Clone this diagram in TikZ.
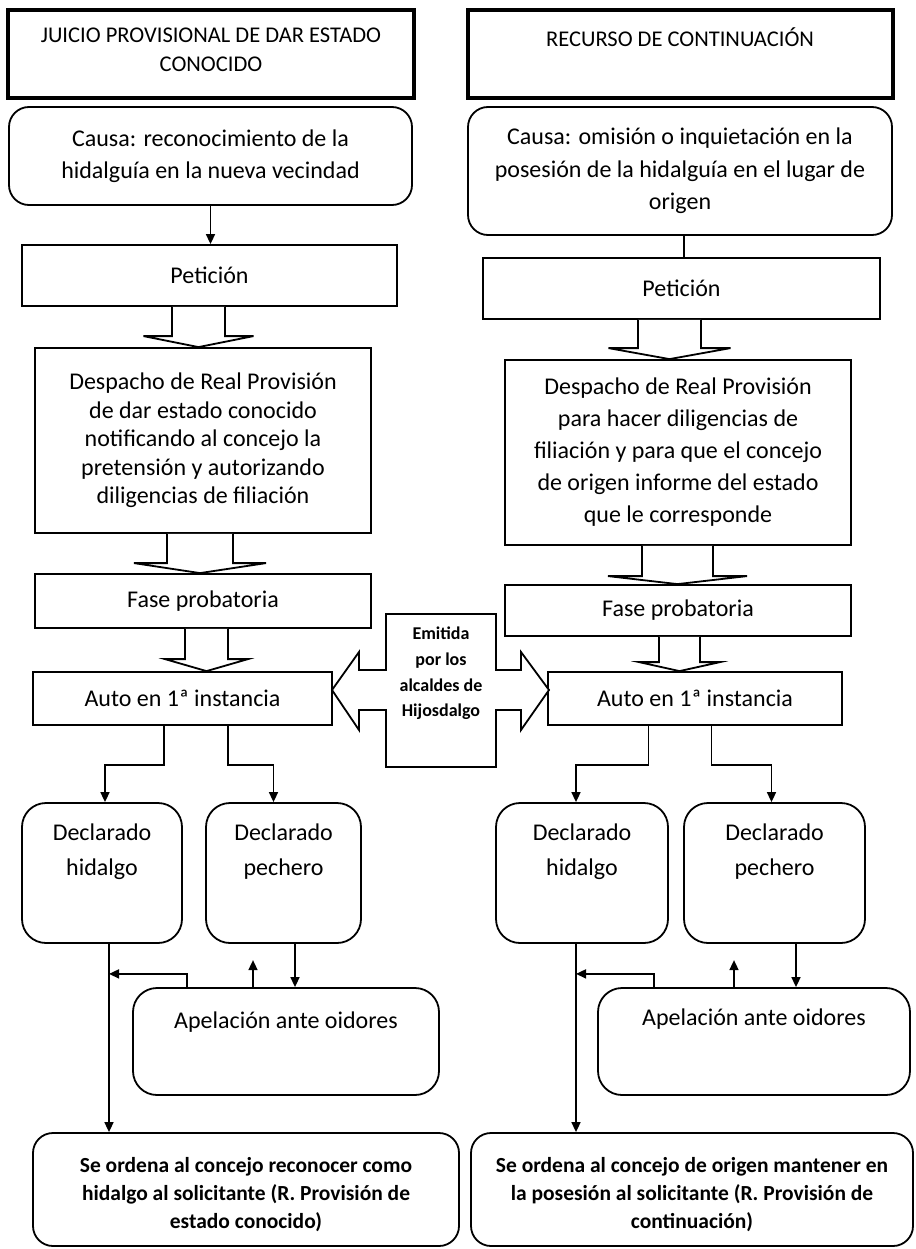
\documentclass[tikz,border=0pt]{standalone}
\usepackage{fontspec}
\setmainfont{Carlito}
\usetikzlibrary{arrows.meta,calc}
\tikzset{
  bx/.style={draw, line width=1.8pt, fill=white, inner sep=0pt, align=center},
  titlebox/.style={bx, line width=4.8pt},
  rbox/.style={bx, rounded corners=20pt},
  txt/.style={inner sep=0pt, align=center},
  arr/.style={line width=1.6pt, -{Triangle[length=10pt,width=9pt]}},
  plain/.style={line width=1.6pt},
  hollow/.style={line width=1.8pt, fill=white, line join=miter},
  mainfs/.style={font=\fontsize{24}{32.5}\selectfont},
  declfs/.style={font=\fontsize{24}{35}\selectfont},
  finfs/.style={font=\bfseries\fontsize{21.5}{28}\selectfont},
}
\newcommand\bx[7]{\node[#6, minimum width={(#4-#2)*1pt}, minimum height={(#5-#3)*1pt}] (#1) at ({(#2+#4)/2},{(#3+#5)/2}) {#7};}
\newcommand\holarrow[6]{\draw[hollow] let \p1=(#1.south), \p2=(#2.north) in
  ({(#3-#4)*1pt},\y1) -- ({(#3-#4)*1pt},{\y2+#6pt}) -- ({(#3-#5)*1pt},{\y2+#6pt}) -- ({#3*1pt},\y2)
  -- ({(#3+#5)*1pt},{\y2+#6pt}) -- ({(#3+#4)*1pt},{\y2+#6pt}) -- ({(#3+#4)*1pt},\y1);}
\begin{document}
\begin{tikzpicture}[x=1pt,y=-1pt]
\useasboundingbox (0,0) rectangle (915,1249);
\fill[white] (0,0) rectangle (915,1249);

% titles
\bx{titL}{8}{10}{414}{98}{titlebox}{}
\node[txt, font=\fontsize{22.5}{29}\selectfont, anchor=north] (titLt) at (211,28) {JUICIO PROVISIONAL DE DAR ESTADO\\CONOCIDO};
\bx{titR}{468}{10}{893}{98}{titlebox}{}
\node[txt, font=\fontsize{22.5}{29}\selectfont, anchor=north] (titRt) at (680,28) {RECURSO DE CONTINUACIÓN};

% causa
\bx{causaL}{9}{107}{412}{205}{rbox,mainfs}{Causa: reconocimiento de la\\hidalguía en la nueva vecindad}
\bx{causaR}{468}{107}{892}{235}{rbox,mainfs}{Causa: omisión o inquietación en la\\posesión de la hidalguía en el lugar de\\origen}

% peticion
\bx{petL}{22}{245}{397}{306}{bx,mainfs}{Petición}
\bx{petR}{483}{258}{880}{319}{bx,mainfs}{Petición}

% despacho
\bx{despL}{35}{348}{371}{533}{bx,font=\fontsize{24}{28.5}\selectfont}{Despacho de Real Provisión\\de dar estado conocido\\notificando al concejo la\\pretensión y autorizando\\diligencias de filiación}
\bx{despR}{505}{360}{851}{545}{bx,font=\fontsize{24}{32}\selectfont}{Despacho de Real Provisión\\para hacer diligencias de\\filiación y para que el concejo\\de origen informe del estado\\que le corresponde}

% fase
\bx{faseL}{35}{574}{371}{628}{bx,mainfs}{Fase probatoria}
\bx{faseR}{505}{585}{851}{636}{bx,mainfs}{Fase probatoria}

% auto
\bx{autoL}{33}{672}{332}{725}{bx,mainfs}{Auto en 1ª instancia}
\bx{autoR}{548}{672}{842}{725}{bx,mainfs}{Auto en 1ª instancia}

% callout
\draw[line width=1.8pt, fill=white, line join=miter] (386,614) -- (496,614) -- (496,670) -- (521,670) -- (521,652) -- (549,690) -- (521,730) -- (521,710) -- (496,710) -- (496,767) -- (386,767) -- (386,710) -- (359,710) -- (359,730) -- (332,690) -- (359,652) -- (359,670) -- (386,670) -- cycle;
\node[txt, font=\bfseries\fontsize{18}{25.7}\selectfont, anchor=north] (callt) at (441,627) {Emitida\\por los\\alcaldes de\\Hijosdalgo};

% declarado
\bx{hidL}{22}{803}{182}{943}{rbox,rounded corners=24pt}{}
\node[txt, declfs, anchor=north] (hidLt) at (102,824) {Declarado\\hidalgo};
\bx{pechL}{206}{803}{361}{943}{rbox,rounded corners=24pt}{}
\node[txt, declfs, anchor=north] (pechLt) at (283.5,824) {Declarado\\pechero};
\bx{hidR}{496}{803}{668}{943}{rbox,rounded corners=24pt}{}
\node[txt, declfs, anchor=north] (hidRt) at (582,824) {Declarado\\hidalgo};
\bx{pechR}{684}{803}{865}{943}{rbox,rounded corners=24pt}{}
\node[txt, declfs, anchor=north] (pechRt) at (774.5,824) {Declarado\\pechero};

% apelacion
\bx{apelL}{133}{988}{439}{1095}{rbox,rounded corners=24pt}{}
\node[txt, mainfs, anchor=north] (apelLt) at (286,1012) {Apelación ante oidores};
\bx{apelR}{598}{988}{910}{1095}{rbox,rounded corners=24pt}{}
\node[txt, mainfs, anchor=north] (apelRt) at (754,1009) {Apelación ante oidores};

% final
\bx{finL}{33}{1133}{459}{1246}{rbox}{}
\node[txt, finfs] (finLt) at (246,1195) {Se ordena al concejo reconocer como\\hidalgo al solicitante (R. Provisión de\\estado conocido)};
\bx{finR}{471}{1133}{913}{1246}{rbox}{}
\node[txt, finfs] (finRt) at (692,1195) {Se ordena al concejo de origen mantener en\\la posesión al solicitante (R. Provisión de\\continuación)};

% connectors top
\draw[arr] (causaL.south) -- (causaL.south |- petL.north);
\draw[plain] ([xshift=4pt]causaR.south) -- ([xshift=4pt]causaR.south |- petR.north);

% hollow arrows
\holarrow{petL}{despL}{198.5}{26.5}{55}{11}
\holarrow{despL}{faseL}{200}{33}{66}{10}
\holarrow{faseL}{autoL}{206.5}{21.5}{41.5}{12}
\holarrow{petR}{despR}{669.5}{31.5}{61}{11}
\holarrow{despR}{faseR}{677.5}{35.5}{69.5}{8}
\holarrow{faseR}{autoR}{679.5}{20.5}{40.5}{9}

% auto branches
\draw[arr] ([xshift=-18.5pt]autoL.south) -- ++(0,39) -| ([xshift=3pt]hidL.north);
\draw[arr] ([xshift=45.5pt]autoL.south) -- ++(0,39) -| ([xshift=-10pt]pechL.north);
\draw[arr] ([xshift=-46.5pt]autoR.south) -- ++(0,39) -| ([xshift=-6pt]hidR.north);
\draw[arr] ([xshift=16.5pt]autoR.south) -- ++(0,39) -| ([xshift=-3pt]pechR.north);

% left lower connectors
\draw[arr] ([xshift=7pt]hidL.south) -- ([xshift=7pt]hidL.south |- finL.north);
\draw[arr] ([xshift=-99pt]apelL.north) |- ([xshift=7pt,yshift=-30pt]hidL.south);
\draw[arr] ([xshift=-33pt]apelL.north) -- ++(0,-27);
\draw[arr] ([xshift=11.5pt]pechL.south) -- ([xshift=11.5pt]pechL.south |- apelL.north);

% right lower connectors
\draw[arr] ([xshift=-6pt]hidR.south) -- ([xshift=-6pt]hidR.south |- finR.north);
\draw[arr] ([xshift=-100pt]apelR.north) |- ([xshift=-6pt,yshift=-30pt]hidR.south);
\draw[arr] ([xshift=-20pt]apelR.north) -- ++(0,-27);
\draw[arr] ([xshift=21.5pt]pechR.south) -- ([xshift=21.5pt]pechR.south |- apelR.north);
\end{tikzpicture}
\end{document}
